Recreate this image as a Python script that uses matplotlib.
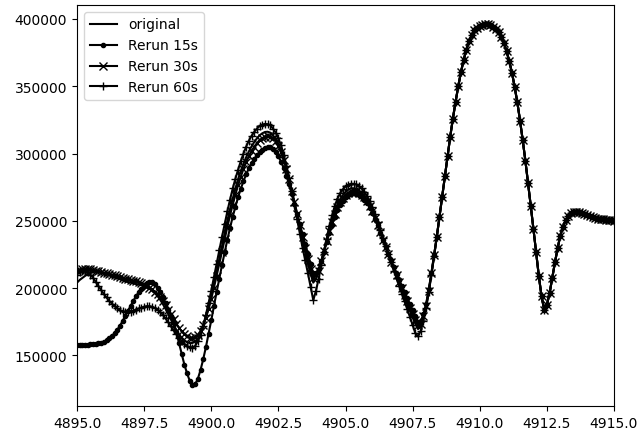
import numpy as np
import matplotlib
matplotlib.use("Agg")
import matplotlib.pyplot as plt
import matplotlib.ticker as mticker

# x positions (0.1 steps from 4895.0 to 4915.0)
x = np.round(4895.0 + 0.1 * np.arange(201), 1)

# common right-hand part (x = 4908.4 ... 4915.0)
tail = [238000, 253000, 268000, 283000, 298000, 312500,
        326000, 338500, 350000, 360500, 369500, 377000, 383500, 388000, 391500, 393500,
        395000, 395800, 396000, 396000, 395500, 394200, 392500, 390000, 386500, 382000,
        376000, 368500, 360000, 349500, 338000, 324500, 310000, 294500, 278000, 261000,
        244000, 226500, 209000, 194000, 184000, 187500, 196000, 207500, 219000, 229500,
        239000, 245500, 250500, 253500, 255500, 256300, 256500, 256200, 255500, 254700,
        254000, 253200, 252500, 252000, 251500, 251200, 251000, 250700, 250500, 250200,
        250000]

original_head = [
    204000, 206000, 207500, 209000, 210500, 211500, 212000, 212200, 212000, 211500,
    211000, 210200, 209500, 208700, 208000, 207200, 206500, 205700, 205000, 204500,
    204000, 203500, 203000, 202500, 202000, 201300, 200500, 199400, 198000, 196200,
    194000, 191200, 188000, 184400, 180500, 176500, 172500, 168800, 165500, 163000,
    161000, 159800, 159000, 159200, 160000, 162500, 166000, 171500, 178000, 185500,
    194000, 203000, 212000, 221500, 231000, 240500, 250000, 258500, 266500, 274000,
    281000, 287000, 292500, 297200, 301500, 305200, 308500, 311200, 313500, 315000,
    316000, 316200, 315500, 313500, 311000, 307000, 302000, 295500, 288500, 280200,
    271500, 262300, 253000, 244000, 235000, 226500, 218000, 210500, 204000, 207000,
    212000, 220000, 228000, 236000, 244000, 251000, 257000, 262000, 266000, 269000,
    271500, 273000, 274000, 274000, 273500, 272500, 271000, 268800, 266000, 262300,
    258000, 253000, 247500, 241800, 236000, 230200, 224500, 219000, 213500, 208200,
    203000, 198000, 193000, 188000, 183000, 178000, 173500, 169500, 171000, 178000,
    186000, 197000, 210000, 224000]

rerun15_head = [
    158000, 158000, 158000, 158000, 158000, 158100, 158200, 158400, 158800, 159300,
    160000, 161100, 162500, 164300, 166500, 169000, 172000, 175500, 179500, 183200,
    187000, 190500, 194000, 197000, 199500, 201700, 203500, 204500, 204500, 202700,
    200000, 196800, 193000, 188700, 184000, 179200, 174000, 167000, 159000, 151000,
    143000, 136500, 131000, 128000, 128500, 132500, 139000, 147000, 156000, 166000,
    176000, 186500, 197000, 207000, 217000, 226500, 236000, 244700, 253000, 260500,
    267500, 273700, 279500, 284500, 289000, 292800, 296000, 298700, 301000, 302700,
    304000, 304500, 304500, 303000, 301000, 297800, 294000, 289000, 283500, 277000,
    270000, 262700, 255000, 247500, 240000, 232500, 225000, 218000, 211000, 211500,
    214000, 220000, 227000, 234000, 241000, 247200, 253000, 257800, 262000, 265000,
    267500, 269000, 270000, 270300, 270000, 269000, 267500, 265400, 263000, 259800,
    256000, 251500, 246500, 241200, 236000, 230700, 225500, 220500, 215500, 210700,
    206000, 201500, 197000, 192500, 188000, 183500, 179000, 175000, 175000, 180500,
    188000, 199000, 211000, 224500]

rerun30_head = [
    213000, 213500, 214000, 214200, 214000, 213800, 213500, 213000, 212500, 212000,
    211500, 211000, 210500, 210000, 209500, 209000, 208500, 207800, 207000, 206500,
    206000, 205500, 205000, 204300, 203500, 202600, 201500, 200300, 199000, 197400,
    195500, 193200, 190500, 187400, 184000, 180500, 177000, 173600, 170500, 167800,
    165500, 164000, 163000, 162900, 163500, 165300, 168000, 172500, 178000, 184500,
    192000, 200300, 209000, 218000, 227000, 236300, 245500, 254000, 262000, 269500,
    276500, 282800, 288500, 293500, 298000, 301800, 305000, 307700, 310000, 311500,
    312500, 312800, 312500, 311200, 309000, 305500, 301000, 295200, 288500, 280800,
    272500, 264000, 255000, 246500, 238000, 229700, 221500, 214000, 207500, 209500,
    213000, 220000, 227500, 235000, 242500, 249000, 255000, 260000, 264000, 267000,
    269500, 271000, 272000, 272300, 272000, 271000, 269500, 267300, 264500, 261000,
    257000, 252200, 247000, 241600, 236000, 230500, 225000, 219700, 214500, 209500,
    204500, 199700, 195000, 190200, 185500, 181000, 176500, 172500, 173000, 179000,
    187000, 198000, 211000, 224500]

rerun60_head = [
    210000, 211800, 213000, 213000, 212000, 210000, 207500, 204500, 201500, 198500,
    195500, 193000, 190500, 188400, 186500, 184900, 183500, 182600, 182000, 182100,
    182500, 183200, 184000, 184800, 185500, 186100, 186500, 186500, 186000, 185200,
    184000, 182200, 180000, 177400, 174500, 171500, 168500, 165700, 163000, 160600,
    158500, 156900, 156000, 155600, 157000, 160300, 165000, 171800, 180000, 188800,
    198000, 208000, 218000, 228000, 238000, 247500, 257000, 265700, 274000, 281300,
    288000, 294300, 300000, 305100, 309500, 313100, 316000, 318500, 320500, 321500,
    322000, 321800, 321000, 318500, 315500, 311200, 306000, 299000, 291000, 282000,
    272000, 261500, 251000, 240500, 230000, 220500, 211000, 201000, 191000, 198000,
    207000, 217000, 227000, 236800, 246000, 254000, 261000, 266300, 270500, 273300,
    275500, 276800, 277500, 277500, 277000, 275800, 274000, 271500, 268500, 264500,
    260000, 254700, 249000, 243000, 237000, 231000, 225000, 219000, 213000, 207200,
    201500, 195700, 190000, 184200, 178500, 172500, 166500, 164000, 168000, 175500,
    185000, 197000, 210000, 223500]

original = original_head + tail
rerun15 = rerun15_head + tail
rerun30 = rerun30_head + tail
rerun60 = rerun60_head + tail

xticks = [4895.0, 4897.5, 4900.0, 4902.5, 4905.0, 4907.5, 4910.0, 4912.5, 4915.0]
yticks = [150000, 200000, 250000, 300000, 350000, 400000]

fig = plt.figure(figsize=(6.39, 4.35), dpi=100)
ax = fig.add_axes([77 / 639, 1 - 407 / 435, (614 - 77) / 639, (407 - 6) / 435])

ax.plot(x, original, color="k", linestyle="-", label="original")
ax.plot(x, rerun15, color="k", marker=".", label="Rerun 15s")
ax.plot(x, rerun30, color="k", marker="x", label="Rerun 30s")
ax.plot(x, rerun60, color="k", marker="+", label="Rerun 60s")

ax.set_xlim(4895, 4915)
ax.set_ylim(112300, 410400)
ax.set_xticks(xticks)
ax.set_yticks(yticks)
ax.ticklabel_format(useOffset=False, style="plain")
ax.xaxis.set_major_formatter(mticker.FormatStrFormatter("%.1f"))
ax.legend(loc="upper left")

fig.savefig("out.png", dpi=100)
